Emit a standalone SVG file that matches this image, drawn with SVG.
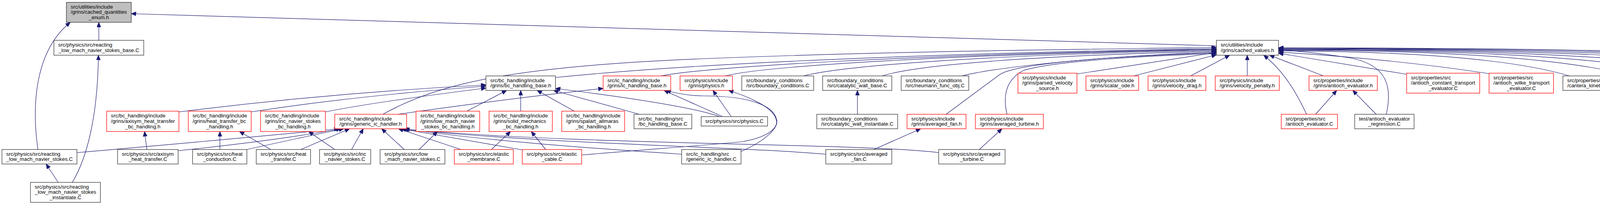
<svg xmlns="http://www.w3.org/2000/svg" width="5393" height="557" viewBox="0 0 5393 557">
<style>
.e{fill:none;stroke:#191970;stroke-width:1.2;marker-end:url(#ah)}
.k{fill:#fff;stroke:#333;stroke-width:1.3}
.r{fill:#fff;stroke:#f00;stroke-width:1.3}
.g{fill:#bfbfbf;stroke:#333;stroke-width:1.3}
text{font-family:"Liberation Sans",Arial,Helvetica,sans-serif;font-size:13.33px;fill:#000}
.m{text-anchor:middle}
</style>
<defs>
<marker id="ah" viewBox="0 0 13 11" markerWidth="13" markerHeight="11" refX="12.5" refY="5.5" orient="auto" markerUnits="userSpaceOnUse"><path d="M0.5,0.5 L12.5,5.5 L0.5,10.5 Z" fill="#191970" stroke="#191970" stroke-width="1"/></marker>
</defs>
<rect width="5393" height="557" fill="#fff"/>
<g id="edges">
<path class="e" d="M3114,117 L336,35"/>
<path class="e" d="M253,103 L253,57"/>
<path class="e" d="M97,382 C80,262 92,128 180,57"/>
<path class="e" d="M185,466 C222,405 250,300 252,141"/>
<path class="e" d="M149,466 L118,419"/>
<path class="e" d="M376,382 L370,336"/>
<path class="e" d="M197,390 Q600,355 868,329"/>
<path class="e" d="M456,385 Q700,360 873,329"/>
<path class="e" d="M632,382 Q800,345 880,329"/>
<path class="e" d="M770,382 L895,329"/>
<path class="e" d="M900,382 L930,329"/>
<path class="e" d="M1035,382 L977,329"/>
<path class="e" d="M1180,382 L1020,329"/>
<path class="e" d="M1337,383 L1026,329"/>
<path class="e" d="M1745,394 C1500,378 1250,360 1030,329"/>
<path class="e" d="M2114,394 C1900,375 1400,368 1033,330"/>
<path class="e" d="M2403,390 C2200,365 1500,372 1036,330"/>
<path class="e" d="M1073,382 L1120,336"/>
<path class="e" d="M1258,382 L1307,336"/>
<path class="e" d="M1397,382 L1360,336"/>
<path class="e" d="M563,382 L563,336"/>
<path class="e" d="M693,382 L613,336"/>
<path class="e" d="M857,382 L790,336"/>
<path class="e" d="M458,286 Q850,237 1244,217"/>
<path class="e" d="M643,286 Q900,246 1244,220"/>
<path class="e" d="M833,286 Q950,262 1244,225"/>
<path class="e" d="M1195,284 L1297,231"/>
<path class="e" d="M1333,284 L1333,231"/>
<path class="e" d="M1470,284 L1375,231"/>
<path class="e" d="M1637,292 L1417,231"/>
<path class="e" d="M1842,298 Q1760,268 1422,226"/>
<path class="e" d="M1850,298 L1700,231"/>
<path class="e" d="M1018,292 Q1300,252 1544,226"/>
<path class="e" d="M1897,387 C1960,360 1995,325 1988,305 C1980,270 1920,245 1800,245 C1760,245 1730,238 1705,231"/>
<path class="e" d="M1489,396 C1650,382 1800,372 1900,362 C1960,352 1990,330 1988,310 C1985,285 1950,258 1865,231"/>
<path class="e" d="M1872,298 L1825,231"/>
<path class="e" d="M980,292 C1120,215 1300,170 1800,150 S2800,126 3114,121"/>
<path class="e" d="M1422,198 C1700,170 2200,140 3114,124"/>
<path class="e" d="M1692,194 C1800,172 2300,140 3114,126"/>
<path class="e" d="M1857,194 C1950,170 2400,140 3114,127"/>
<path class="e" d="M2057,194 C2150,170 2500,140 3114,129"/>
<path class="e" d="M2258,194 C2350,165 2650,142 3114,131"/>
<path class="e" d="M2462,194 C2550,172 2800,145 3114,133"/>
<path class="e" d="M2422,292 L2560,190 C2600,165 2800,145 3114,135"/>
<path class="e" d="M2578,292 C2568,250 2572,205 2620,180 C2700,155 2950,142 3114,137"/>
<path class="e" d="M2757,189 L3114,134"/>
<path class="e" d="M2902,194 L3114,140"/>
<path class="e" d="M3048,194 L3148,141"/>
<path class="e" d="M3193,194 L3193,141"/>
<path class="e" d="M3388,194 L3250,141"/>
<path class="e" d="M3345,292 C3320,240 3290,185 3235,141"/>
<path class="e" d="M3368,292 L3422,231"/>
<path class="e" d="M3523,292 L3463,231"/>
<path class="e" d="M3549,292 C3562,230 3560,165 3450,147 C3380,136 3320,130 3273,128"/>
<path class="e" d="M3602,190 L3273,136"/>
<path class="e" d="M3812,188 Q3560,150 3273,133"/>
<path class="e" d="M4018,194 Q3810,132 3273,130"/>
<path class="e" d="M4178,194 Q3925,128 3273,128"/>
<path class="e" d="M4337,194 Q4040,127 3273,127"/>
<path class="e" d="M4500,194 Q4157,126 3273,126"/>
<path class="e" d="M4687,194 Q4291,125 3273,125"/>
<path class="e" d="M4880,194 Q4430,124 3273,124"/>
<path class="e" d="M5080,194 Q4574,123 3273,123"/>
<path class="e" d="M5256,194 Q4701,122 3273,122"/>
<path class="e" d="M2195,292 L2195,231"/>
<path class="e" d="M2237,382 L2357,329"/>
<path class="e" d="M2507,382 L2565,329"/>
</g>
<g id="n0"><rect class="g" x="170" y="6" width="166" height="51"/><text x="181" y="21.6">src/utilities/include</text><text x="181" y="35.3">/grins/cached_quantities</text><text class="m" x="253" y="49">_enum.h</text></g>
<g id="n1"><rect class="k" x="138" y="103" width="230" height="38"/><text x="149" y="119">src/physics/src/reacting</text><text class="m" x="253" y="132.7">_low_mach_navier_stokes_base.C</text></g>
<g id="n2"><rect class="k" x="3114" y="103" width="159" height="38"/><text x="3125" y="119">src/utilities/include</text><text class="m" x="3193.5" y="132.7">/grins/cached_values.h</text></g>
<g id="n3"><rect class="k" x="1244" y="194" width="178" height="37"/><text x="1255" y="209.5">src/bc_handling/include</text><text class="m" x="1333" y="223.2">/grins/bc_handling_base.h</text></g>
<g id="n4"><rect class="r" x="1544" y="194" width="173" height="37"/><text x="1555" y="209.5">src/ic_handling/include</text><text class="m" x="1630.5" y="223.2">/grins/ic_handling_base.h</text></g>
<g id="n5"><rect class="r" x="1741" y="194" width="134" height="37"/><text x="1752" y="209.5">src/physics/include</text><text class="m" x="1808" y="223.2">/grins/physics.h</text></g>
<g id="n6"><rect class="k" x="1899" y="194" width="184" height="37"/><text x="1910" y="209.5">src/boundary_conditions</text><text class="m" x="1991" y="223.2">/src/boundary_conditions.C</text></g>
<g id="n7"><rect class="k" x="2106" y="194" width="177" height="37"/><text x="2117" y="209.5">src/boundary_conditions</text><text class="m" x="2194.5" y="223.2">/src/catalytic_wall_base.C</text></g>
<g id="n8"><rect class="k" x="2307" y="194" width="173" height="37"/><text x="2318" y="209.5">src/boundary_conditions</text><text class="m" x="2393.5" y="223.2">/src/neumann_func_obj.C</text></g>
<g id="n9"><rect class="r" x="2606" y="187" width="151" height="51"/><text x="2617" y="202.6">src/physics/include</text><text x="2617" y="216.3">/grins/parsed_velocity</text><text class="m" x="2681.5" y="230">_source.h</text></g>
<g id="n10"><rect class="r" x="2780" y="194" width="135" height="37"/><text x="2791" y="209.5">src/physics/include</text><text class="m" x="2847.5" y="223.2">/grins/scalar_ode.h</text></g>
<g id="n11"><rect class="r" x="2939" y="194" width="148" height="37"/><text x="2950" y="209.5">src/physics/include</text><text class="m" x="3013" y="223.2">/grins/velocity_drag.h</text></g>
<g id="n12"><rect class="r" x="3111" y="194" width="164" height="37"/><text x="3122" y="209.5">src/physics/include</text><text class="m" x="3193" y="223.2">/grins/velocity_penalty.h</text></g>
<g id="n13"><rect class="r" x="3351" y="194" width="175" height="37"/><text x="3362" y="209.5">src/properties/include</text><text class="m" x="3438.5" y="223.2">/grins/antioch_evaluator.h</text></g>
<g id="n14"><rect class="r" x="3601" y="187" width="187" height="51"/><text x="3612" y="202.6">src/properties/src</text><text x="3612" y="216.3">/antioch_constant_transport</text><text class="m" x="3694.5" y="230">_evaluator.C</text></g>
<g id="n15"><rect class="r" x="3812" y="187" width="165" height="51"/><text x="3823" y="202.6">src/properties/src</text><text x="3823" y="216.3">/antioch_wilke_transport</text><text class="m" x="3894.5" y="230">_evaluator.C</text></g>
<g id="n16"><rect class="k" x="4001" y="194" width="136" height="37"/><text x="4012" y="209.5">src/properties/src</text><text class="m" x="4069" y="223.2">/cantera_kinetics.C</text></g>
<g id="n17"><rect class="k" x="4162" y="194" width="132" height="37"/><text x="4173" y="209.5">src/properties/src</text><text class="m" x="4228" y="223.2">/cantera_thermo.C</text></g>
<g id="n18"><rect class="k" x="4319" y="194" width="144" height="37"/><text x="4330" y="209.5">src/properties/src</text><text class="m" x="4391" y="223.2">/cantera_transport.C</text></g>
<g id="n19"><rect class="k" x="4486" y="194" width="153" height="37"/><text x="4497" y="209.5">src/utilities/src/cached</text><text class="m" x="4562.5" y="223.2">_values.C</text></g>
<g id="n20"><rect class="k" x="4663" y="194" width="167" height="37"/><text x="4674" y="209.5">test/antioch_wilke</text><text class="m" x="4746.5" y="223.2">_evaluator_regression.C</text></g>
<g id="n21"><rect class="k" x="4854" y="194" width="180" height="37"/><text x="4865" y="209.5">test/cantera_chem_thermo</text><text class="m" x="4944" y="223.2">_test.C</text></g>
<g id="n22"><rect class="k" x="5058" y="194" width="153" height="37"/><text x="5069" y="209.5">test/cantera_evaluator</text><text class="m" x="5134.5" y="223.2">_regression.C</text></g>
<g id="n23"><rect class="k" x="5236" y="194" width="152" height="37"/><text x="5247" y="209.5">test/cantera_transport</text><text class="m" x="5312" y="223.2">_regression.C</text></g>
<g id="n24"><rect class="r" x="273" y="284" width="185" height="52"/><text x="284" y="300.1">src/bc_handling/include</text><text x="284" y="313.8">/grins/axisym_heat_transfer</text><text class="m" x="365.5" y="327.5">_bc_handling.h</text></g>
<g id="n25"><rect class="r" x="482" y="284" width="161" height="52"/><text x="493" y="300.1">src/bc_handling/include</text><text x="493" y="313.8">/grins/heat_transfer_bc</text><text class="m" x="562.5" y="327.5">_handling.h</text></g>
<g id="n26"><rect class="r" x="667" y="284" width="166" height="52"/><text x="678" y="300.1">src/bc_handling/include</text><text x="678" y="313.8">/grins/inc_navier_stokes</text><text class="m" x="750" y="327.5">_bc_handling.h</text></g>
<g id="n27"><rect class="r" x="857" y="292" width="184" height="37"/><text x="868" y="307.5">src/ic_handling/include</text><text class="m" x="949" y="321.2">/grins/generic_ic_handler.h</text></g>
<g id="n28"><rect class="r" x="1065" y="284" width="163" height="52"/><text x="1076" y="300.1">src/bc_handling/include</text><text x="1076" y="313.8">/grins/low_mach_navier</text><text class="m" x="1146.5" y="327.5">_stokes_bc_handling.h</text></g>
<g id="n29"><rect class="r" x="1252" y="284" width="162" height="52"/><text x="1263" y="300.1">src/bc_handling/include</text><text x="1263" y="313.8">/grins/solid_mechanics</text><text class="m" x="1333" y="327.5">_bc_handling.h</text></g>
<g id="n30"><rect class="r" x="1438" y="284" width="161" height="52"/><text x="1449" y="300.1">src/bc_handling/include</text><text x="1449" y="313.8">/grins/spalart_allmaras</text><text class="m" x="1518.5" y="327.5">_bc_handling.h</text></g>
<g id="n31"><rect class="k" x="1623" y="292" width="148" height="37"/><text x="1634" y="307.5">src/bc_handling/src</text><text class="m" x="1697" y="321.2">/bc_handling_base.C</text></g>
<g id="n32"><rect class="k" x="1795" y="298" width="170" height="24"/><text class="m" x="1880" y="313.8">src/physics/src/physics.C</text></g>
<g id="n33"><rect class="k" x="2091" y="292" width="207" height="37"/><text x="2102" y="307.5">src/boundary_conditions</text><text class="m" x="2194.5" y="321.2">/src/catalytic_wall_instantiate.C</text></g>
<g id="n34"><rect class="r" x="2322" y="292" width="151" height="37"/><text x="2333" y="307.5">src/physics/include</text><text class="m" x="2397.5" y="321.2">/grins/averaged_fan.h</text></g>
<g id="n35"><rect class="r" x="2497" y="292" width="174" height="37"/><text x="2508" y="307.5">src/physics/include</text><text class="m" x="2584" y="321.2">/grins/averaged_turbine.h</text></g>
<g id="n36"><rect class="r" x="3280" y="292" width="144" height="37"/><text x="3291" y="307.5">src/properties/src</text><text class="m" x="3352" y="321.2">/antioch_evaluator.C</text></g>
<g id="n37"><rect class="k" x="3468" y="292" width="152" height="37"/><text x="3479" y="307.5">test/antioch_evaluator</text><text class="m" x="3544" y="321.2">_regression.C</text></g>
<g id="n38"><rect class="k" x="5" y="382" width="192" height="37"/><text x="16" y="397.5">src/physics/src/reacting</text><text class="m" x="101" y="411.2">_low_mach_navier_stokes.C</text></g>
<g id="n39"><rect class="k" x="301" y="382" width="155" height="37"/><text x="312" y="397.5">src/physics/src/axisym</text><text class="m" x="378.5" y="411.2">_heat_transfer.C</text></g>
<g id="n40"><rect class="k" x="493" y="382" width="139" height="37"/><text x="504" y="397.5">src/physics/src/heat</text><text class="m" x="562.5" y="411.2">_conduction.C</text></g>
<g id="n41"><rect class="k" x="656" y="382" width="139" height="37"/><text x="667" y="397.5">src/physics/src/heat</text><text class="m" x="725.5" y="411.2">_transfer.C</text></g>
<g id="n42"><rect class="k" x="818" y="382" width="131" height="37"/><text x="829" y="397.5">src/physics/src/inc</text><text class="m" x="883.5" y="411.2">_navier_stokes.C</text></g>
<g id="n43"><rect class="k" x="973" y="382" width="166" height="37"/><text x="984" y="397.5">src/physics/src/low</text><text class="m" x="1056" y="411.2">_mach_navier_stokes.C</text></g>
<g id="n44"><rect class="r" x="1163" y="382" width="151" height="37"/><text x="1174" y="397.5">src/physics/src/elastic</text><text class="m" x="1238.5" y="411.2">_membrane.C</text></g>
<g id="n45"><rect class="r" x="1337" y="382" width="152" height="37"/><text x="1348" y="397.5">src/physics/src/elastic</text><text class="m" x="1413" y="411.2">_cable.C</text></g>
<g id="n46"><rect class="k" x="1745" y="382" width="152" height="37"/><text x="1756" y="397.5">src/ic_handling/src</text><text class="m" x="1821" y="411.2">/generic_ic_handler.C</text></g>
<g id="n47"><rect class="k" x="2114" y="382" width="169" height="37"/><text x="2125" y="397.5">src/physics/src/averaged</text><text class="m" x="2198.5" y="411.2">_fan.C</text></g>
<g id="n48"><rect class="k" x="2403" y="382" width="170" height="37"/><text x="2414" y="397.5">src/physics/src/averaged</text><text class="m" x="2488" y="411.2">_turbine.C</text></g>
<g id="n49"><rect class="k" x="78" y="466" width="179" height="51"/><text x="89" y="481.6">src/physics/src/reacting</text><text x="89" y="495.3">_low_mach_navier_stokes</text><text class="m" x="167.5" y="509">_instantiate.C</text></g>
</svg>
